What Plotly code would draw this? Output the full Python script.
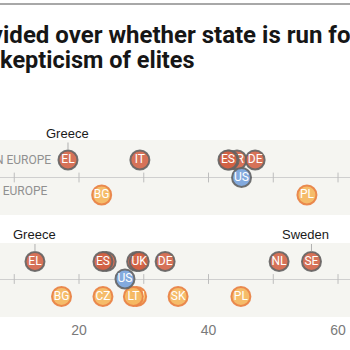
import plotly.graph_objects as go

# ---------------- data ----------------
tick_values = [10, 20, 30, 40, 50, 60]
tick_label_values = [20, 40, 60]
tick_label_text = ["20", "40", "60"]

title_line1 = "divided over whether state is run for"
title_line2 = "skepticism of elites"

row_label_west = "WESTERN EUROPE"
row_label_east = "EASTERN EUROPE"

# Panel 1
p1_west_codes = ["EL", "IT", "FR", "UK", "ES", "DE"]
p1_west_vals = [18.3, 29.4, 44.4, 43.2, 43.0, 47.2]
p1_east_codes = ["BG", "PL"]
p1_east_vals = [23.5, 55.2]
p1_us_val = 45.1

# Panel 2
p2_west_codes = ["EL", "IT", "ES", "FR", "UK", "DE", "NL", "SE"]
p2_west_vals = [13.2, 24.2, 23.7, 28.9, 29.3, 33.3, 50.9, 55.9]
p2_east_codes = ["BG", "CZ", "HU", "LT", "SK", "PL"]
p2_east_vals = [17.3, 23.7, 28.9, 28.4, 35.3, 45.0]
p2_us_val = 27.1

# callouts: (panel, label, value)
callouts = [
    (1, "Greece", 18.3),
    (2, "Greece", 13.2),
    (2, "Sweden", 55.9),
]

# ---------------- styles ----------------
W, H = 350, 350
ROW_WEST, ROW_US, ROW_EAST = 1, 0, -1
LABEL_FONT = "Roboto, Liberation Sans, sans-serif"
TITLE_FONT = "Roboto, Liberation Sans, Arial, sans-serif"
west_style = dict(color="rgba(210,96,66,0.88)", line=dict(color="rgba(100,100,100,0.9)", width=2))
east_style = dict(color="rgba(244,184,98,0.95)", line=dict(color="rgba(233,132,72,0.95)", width=2))
us_style = dict(color="rgba(124,165,220,0.95)", line=dict(color="rgba(100,100,100,0.9)", width=2))
MSIZE = 19

fig = go.Figure()


def add_point(code, val, row, style, axis):
    fig.add_trace(go.Scatter(
        x=[val], y=[row], mode="markers+text", text=[code],
        textposition="middle center",
        textfont=dict(color="white", size=12, family=LABEL_FONT),
        marker=dict(size=MSIZE, **style),
        hoverinfo="skip", showlegend=False,
        xaxis="x" if axis == 1 else "x2", yaxis="y" if axis == 1 else "y2",
        cliponaxis=False,
    ))


def add_ticks(axis):
    fig.add_trace(go.Scatter(
        x=tick_values, y=[ROW_US] * len(tick_values), mode="markers",
        marker=dict(symbol="line-ns", size=7, line=dict(color="#bdbdbd", width=1)),
        hoverinfo="skip", showlegend=False,
        xaxis="x" if axis == 1 else "x2", yaxis="y" if axis == 1 else "y2",
    ))


# Panel 1
add_ticks(1)
for c, v in zip(p1_west_codes, p1_west_vals):
    add_point(c, v, ROW_WEST, west_style, 1)
for c, v in zip(p1_east_codes, p1_east_vals):
    add_point(c, v, ROW_EAST, east_style, 1)
add_point("US", p1_us_val, ROW_US, us_style, 1)

# Panel 2
add_ticks(2)
for c, v in zip(p2_west_codes, p2_west_vals):
    add_point(c, v, ROW_WEST, west_style, 2)
for c, v in zip(p2_east_codes, p2_east_vals):
    add_point(c, v, ROW_EAST, east_style, 2)
add_point("US", p2_us_val, ROW_US, us_style, 2)

xr = [7.8, 61.85]
annotations = []

# title
annotations.append(dict(text="<b>" + title_line1 + "</b>", xref="paper", yref="paper",
                        x=-31 / W, y=1 - 35 / H, xanchor="left", yanchor="middle",
                        showarrow=False, font=dict(size=24, color="#161616", family=TITLE_FONT)))
annotations.append(dict(text="<b>" + title_line2 + "</b>", xref="paper", yref="paper",
                        x=-14 / W, y=1 - 60 / H, xanchor="left", yanchor="middle",
                        showarrow=False, font=dict(size=23.5, color="#161616", family=TITLE_FONT)))

# row labels (panel 1)
annotations.append(dict(text=row_label_west, xref="paper", yref="y", x=53 / W, y=ROW_WEST,
                        xanchor="right", yanchor="middle", showarrow=False,
                        font=dict(size=12, color="#909090", family=LABEL_FONT)))
annotations.append(dict(text=row_label_east, xref="paper", yref="y", x=49.5 / W, y=ROW_EAST,
                        yshift=4, xanchor="right", yanchor="middle", showarrow=False,
                        font=dict(size=12, color="#909090", family=LABEL_FONT)))

# callouts
for panel, label, val in callouts:
    xref = "x" if panel == 1 else "x2"
    yref = "y" if panel == 1 else "y2"
    xs = -6 if label == "Sweden" else 0
    annotations.append(dict(text=label, xref=xref, yref=yref, x=val, y=ROW_WEST,
                            yshift=27, xshift=xs, showarrow=False,
                            font=dict(size=13, color="#1a1a1a",
                                      family="Liberation Sans, Arial, sans-serif")))
    annotations.append(dict(text="", xref=xref, yref=yref, x=val, y=ROW_WEST,
                            showarrow=True, ax=0, ay=-19, standoff=10,
                            arrowhead=0, arrowwidth=1, arrowcolor="#b0b0b0"))

fig.update_layout(
    width=W, height=H, margin=dict(l=0, r=0, t=0, b=0),
    paper_bgcolor="white", plot_bgcolor="#f5f5f1",
    xaxis=dict(domain=[0, 1], range=xr, showgrid=False, zeroline=False, showline=False,
               showticklabels=False, ticks="", anchor="y"),
    yaxis=dict(domain=[1 - 215 / H, 1 - 140 / H], range=[-2.143, 2.143], showgrid=False,
               zeroline=True, zerolinecolor="#cfcfcf", zerolinewidth=1,
               showticklabels=False, ticks="", anchor="x"),
    xaxis2=dict(domain=[0, 1], range=xr, showgrid=False, zeroline=False, showline=False,
                tickvals=tick_label_values, ticktext=tick_label_text, ticks="",
                ticklabelstandoff=3,
                tickfont=dict(size=14, color="#7a7a7a", family="Liberation Sans, Arial, sans-serif"),
                anchor="y2"),
    yaxis2=dict(domain=[1 - 317 / H, 1 - 243 / H], range=[-2.171, 2.057], showgrid=False,
                zeroline=True, zerolinecolor="#cfcfcf", zerolinewidth=1,
                showticklabels=False, ticks="", anchor="x2"),
    annotations=annotations,
    shapes=[dict(type="line", xref="paper", yref="paper", x0=0, x1=1,
                 y0=1 - 4 / H, y1=1 - 4 / H, line=dict(color="#a8a8a8", width=2))],
)

fig.write_html("out.html")
